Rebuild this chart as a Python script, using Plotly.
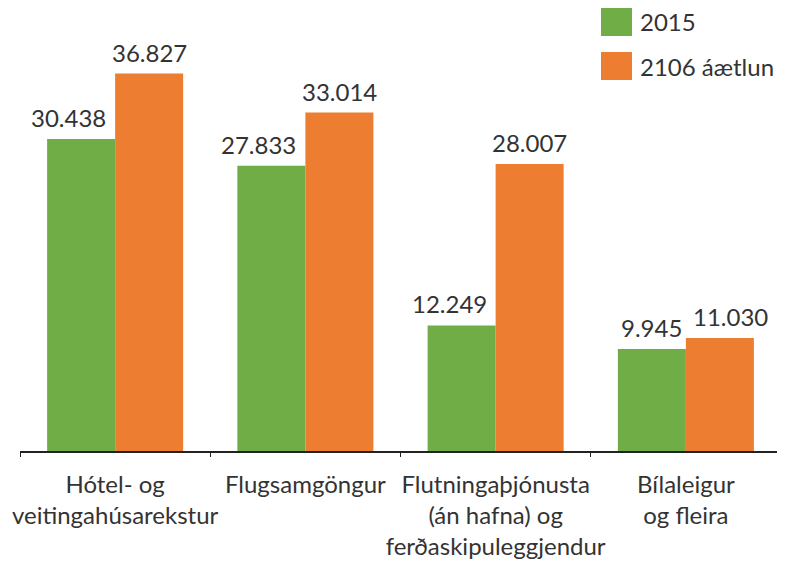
import plotly.graph_objects as go

categories = ["Hótel- og<br>veitingahúsarekstur", "Flugsamgöngur",
              "Flutningaþjónusta<br>(án hafna) og<br>ferðaskipuleggjendur",
              "Bílaleigur<br>og fleira"]
series_names = ["2015", "2106 áætlun"]
values_2015 = [30.438, 27.833, 12.249, 9.945]
values_2016 = [36.827, 33.014, 28.007, 11.030]
colors = ["#70AD47", "#ED7D31"]

FONT = "Lato"
TXT = "#333333"

# page has an 8px body margin; figure is sized to fit the 785x562 window
OFF = 8
W, H = 785 - OFF, 562 - OFF
PL, PR, PT, PB = 20, 781, 41, 451  # plot area in page pixels
BARGAP = 0.285
LABEL_H = 2.5  # approximate label height in data units


def fmt(v):
    return f"{v:.3f}"


def px(x):
    return (x - PL) / (PR - PL)


def py(y):
    return (PB - y) / (PB - PT)


fig = go.Figure()
for name, vals, col in zip(series_names, [values_2015, values_2016], colors):
    fig.add_trace(go.Bar(
        x=categories, y=vals, name=name, marker_color=col, marker_line_width=0,
    ))

# value labels as annotations, nudged apart where they would collide (like Excel)
slot_px = (PR - PL) / len(categories)
bar_px = slot_px * (1 - BARGAP) / len(series_names)
for c, a, b in zip(categories, values_2015, values_2016):
    lab = dict(showarrow=False, yanchor="bottom", yshift=5, xref="x", yref="y",
               font=dict(family=FONT, size=24, color=TXT))
    if b > a + LABEL_H:
        # left label would run into the taller right bar: push it left
        fig.add_annotation(x=c, y=a, text=fmt(a), xanchor="right", xshift=-7, **lab)
        fig.add_annotation(x=c, y=b, text=fmt(b), xanchor="center", xshift=bar_px / 2, **lab)
    else:
        # labels at similar heights: push the right one to the right
        fig.add_annotation(x=c, y=a, text=fmt(a), xanchor="center", xshift=-bar_px / 2, **lab)
        fig.add_annotation(x=c, y=b, text=fmt(b), xanchor="left", xshift=5, **lab)

fig.update_layout(
    width=W, height=H,
    margin=dict(l=PL - OFF, r=W - (PR - OFF), t=PT - OFF, b=H - (PB - OFF), autoexpand=False),
    paper_bgcolor="white", plot_bgcolor="white",
    barmode="group", bargap=BARGAP, bargroupgap=0,
    showlegend=False,
    font=dict(family=FONT, color=TXT),
    xaxis=dict(showline=True, linecolor="#222222", linewidth=1.5,
               ticks="outside", tickson="boundaries", ticklen=4, tickcolor="#222222",
               tickangle=0, automargin=False,
               tickfont=dict(family=FONT, size=24, color=TXT),
               ticklabelstandoff=11, showgrid=False),
    yaxis=dict(range=[0, 40], visible=False, showgrid=False),
)

# custom legend (large swatches)
for i, (name, col) in enumerate(zip(series_names, colors)):
    top = 8 + i * 44
    bot = top + 28
    fig.add_shape(type="rect", xref="paper", yref="paper",
                  x0=px(601), x1=px(632), y0=py(bot), y1=py(top),
                  fillcolor=col, line=dict(width=0))
    fig.add_annotation(xref="paper", yref="paper", x=px(638), y=py((top + bot) / 2),
                       text=name, showarrow=False, xanchor="left", yanchor="middle",
                       font=dict(family=FONT, size=24, color=TXT))

fig.write_html("out.html")
